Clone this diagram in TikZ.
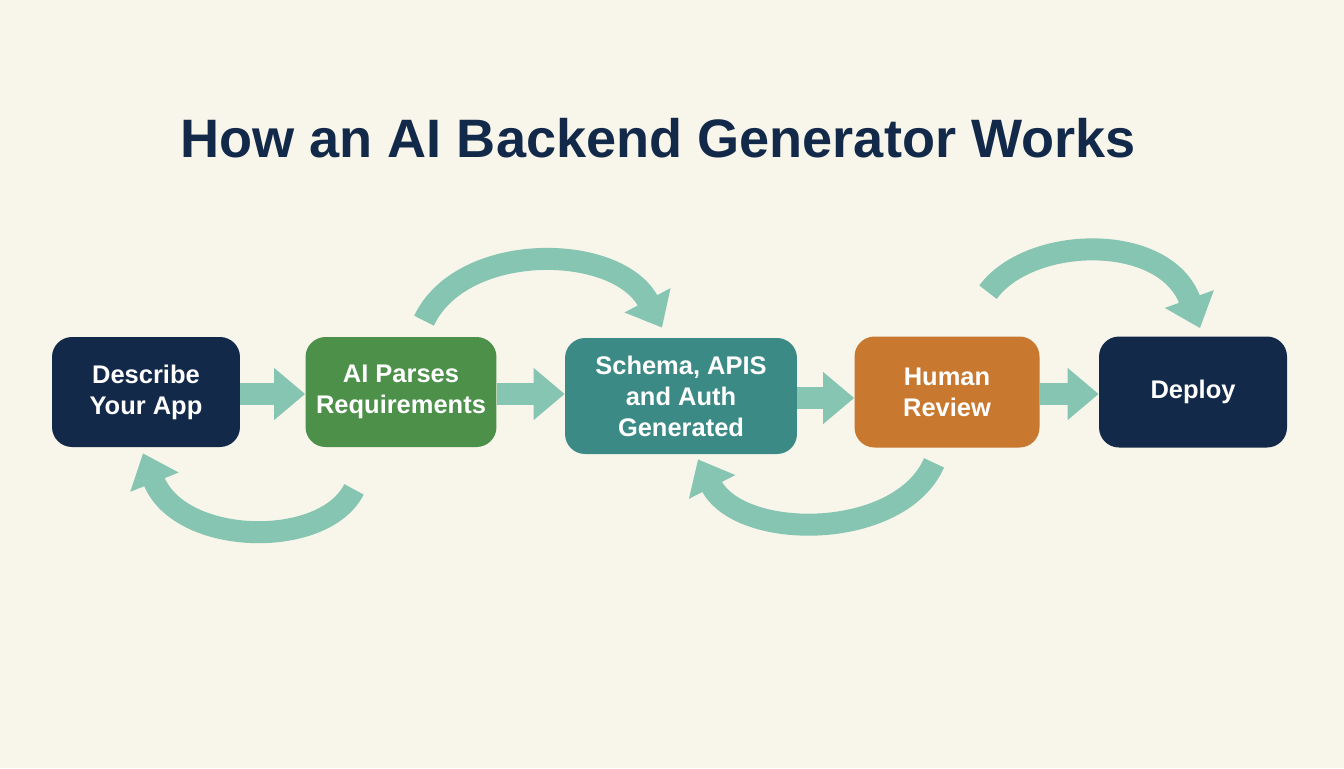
\documentclass[tikz,border=0pt]{standalone}
\usepackage{fontspec}
\setmainfont{Liberation Sans}
\usetikzlibrary{arrows.meta,positioning}
\definecolor{bgcream}{HTML}{F8F5EA}
\definecolor{navy}{HTML}{13294A}
\definecolor{leaf}{HTML}{4C904A}
\definecolor{sea}{HTML}{3B8A85}
\definecolor{amber}{HTML}{C8782F}
\definecolor{mint}{HTML}{85C5B2}
\tikzset{
  stage/.style={rounded corners=0.4cm, text=white, align=center,
    font=\bfseries\fontsize{14.5}{17.6}\selectfont,
    minimum width=3.76cm, minimum height=2.2cm},
  flow/.style={mint, line width=0.44cm, -{Triangle[width=1cm,length=0.62cm]}},
}
\begin{document}
\begin{tikzpicture}[x=0.02cm,y=-0.02cm]
\fill[bgcream] (0,0) rectangle (1344,768);
\useasboundingbox (0,0) rectangle (1344,768);
\node[text=navy,font=\bfseries\fontsize{30.8}{36}\selectfont] (title) at (658,138) {How an AI Backend Generator Works};
\node[stage,fill=navy] (describe) at (146,392) {Describe\\Your App};
\node[stage,fill=leaf,minimum width=3.82cm] (parse) at (401,392) {AI Parses\\Requirements};
\node[stage,fill=sea,minimum width=4.64cm,minimum height=2.32cm] (schema) at (681,396) {Schema, APIS\\and Auth\\Generated};
\node[stage,fill=amber,minimum width=3.7cm,minimum height=2.22cm] (review) at (947,392) {Human\\Review};
\node[stage,fill=navy,minimum height=2.22cm] (deploy) at (1193,392) {Deploy};
\foreach \a/\b in {describe/parse,parse/schema,schema/review,review/deploy}
  \draw[flow] ([yshift=-0.04cm]\a.east) -- ([yshift=-0.04cm]\a.east -| \b.west);
\draw[flow] ([shift={(23,-16)}]parse.north) .. controls +(38,-80) and +(-45,-85) .. ([shift={(-19,-10)}]schema.north);
\draw[flow] ([shift={(41,-44)}]review.north) .. controls +(42,-57) and +(-35,-96) .. ([shift={(7,-8)}]deploy.north);
\draw[flow] ([shift={(-47,42)}]parse.south) .. controls +(-30,60) and +(37,93) .. ([shift={(-3,6)}]describe.south);
\draw[flow] ([shift={(-13,15)}]review.south) .. controls +(-34,78) and +(42,82) .. ([shift={(17,5)}]schema.south);
\end{tikzpicture}
\end{document}
